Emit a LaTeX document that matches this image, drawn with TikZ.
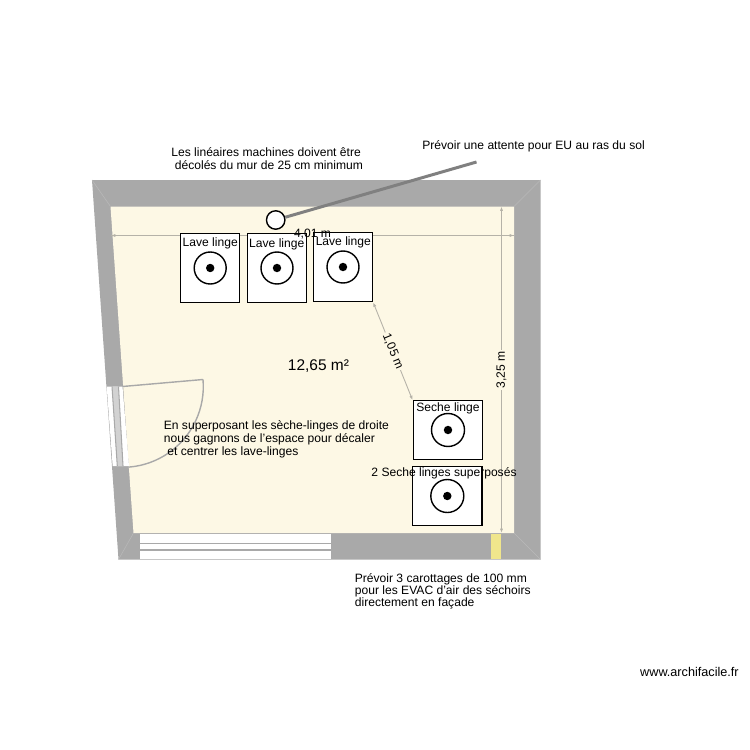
\documentclass[tikz,border=0pt]{standalone}
\usepackage{fontspec}
\setmainfont{Liberation Sans}
\usetikzlibrary{arrows.meta}
\definecolor{wallgray}{HTML}{A9A9A9}
\definecolor{floorcream}{HTML}{FDF8E5}
\definecolor{dimgray}{HTML}{B5B2A8}
\definecolor{ventyellow}{HTML}{F0E68C}
\tikzset{
  txt/.style={inner sep=0pt,align=left,text=black,font=\fontsize{6.88}{7.4}\selectfont},
  machine/.style={draw,thick,fill=white,inner sep=0pt},
  hole/.style={circle,fill=black,inner sep=0pt,minimum size=4.8pt},
  dimline/.style={dimgray,line width=0.5pt,{Latex[length=2.5pt,width=1.8pt]}-{Latex[length=2.5pt,width=1.8pt]}},
  dimtxt/.style={txt,fill=floorcream,inner sep=1pt},
}
\begin{document}
\begin{tikzpicture}[x=0.02cm,y=-0.02cm]
  \useasboundingbox (0,0) rectangle (750,750);
  \fill[white] (0,0) rectangle (750,750);
  % walls and floor
  \fill[wallgray] (92,180) -- (540.5,180) -- (540.5,559.5) -- (118.5,559.5) -- cycle;
  \fill[floorcream] (110.5,206.5) -- (514,206.5) -- (514,533) -- (133.5,533) -- cycle;
  \draw[gray!55,line width=0.3pt] (92,180) -- (110.5,206.5);
  \draw[gray!55,line width=0.3pt] (540.5,180) -- (514,206.5);
  \draw[gray!55,line width=0.3pt] (540.5,559.5) -- (514,533);
  \draw[gray!55,line width=0.3pt] (118.5,559.5) -- (133.5,533);
  % window at the bottom
  \fill[white] (140,533.5) rectangle (331,559);
  \draw[wallgray,line width=0.8pt] (140,543.5) -- (331,543.5);
  \draw[wallgray,line width=0.8pt] (140,550) -- (331,550);
  % vent in the wall
  \fill[ventyellow] (491,533.5) rectangle (501,559);
  % door
  \fill[white] (106.7,386.5) -- (122.5,386.5) -- (129,466) -- (112.7,466) -- cycle;
  \fill[gray!35] (112,386.5) -- (118.5,386.5) -- (123,466) -- (117.3,466) -- cycle;
  \draw[wallgray,line width=0.6pt] (112,386.5) -- (117.3,466);
  \draw[wallgray,line width=0.6pt] (118.5,386.5) -- (123,466);
  \draw[wallgray,line width=0.8pt] (203,379.5) -- (122.5,386.5);
  \draw[wallgray,line width=0.8pt] (203,379.5) arc[start angle=-5,end angle=85.3,radius=80.8];
  % dimensions
  \coordinate (WidthL) at (111,235.5);
  \coordinate (WidthGapL) at (290,235.5);
  \coordinate (WidthGapR) at (333,235.5);
  \coordinate (WidthR) at (514,235.5);
  \coordinate (HeightT) at (501.5,206.5);
  \coordinate (HeightB) at (501.5,533);
  \draw[dimline,-] (WidthL) -- (WidthGapL);
  \draw[dimline,-] (WidthGapR) -- (WidthR);
  \draw[dimgray,line width=0.5pt,{Latex[length=2.5pt,width=1.8pt]}-] (WidthL) -- +(6,0);
  \draw[dimgray,line width=0.5pt,-{Latex[length=2.5pt,width=1.8pt]}] (WidthR) ++(-6,0) -- (WidthR);
  \draw[dimline] (HeightT) -- node[dimtxt,rotate=90] (HeightLbl) {3,25 m} (HeightB);
  % machines
  \node[machine,minimum width=59*0.569pt,minimum height=69.5*0.569pt] (Lave1) at (210.2,268) {};
  \node[machine,minimum width=59*0.569pt,minimum height=69.5*0.569pt] (Lave2) at (277,268) {};
  \node[machine,minimum width=59*0.569pt,minimum height=69.5*0.569pt] (Lave3) at (343,267) {};
  \node[machine,minimum width=69.5*0.569pt,minimum height=58.5*0.569pt] (Seche1) at (448,430) {};
  \node[machine,minimum width=69.5*0.569pt,minimum height=58.5*0.569pt] (Seche2) at (447.3,496) {};
  \draw[thick] (Lave1) circle[radius=16];
  \draw[thick] (Lave2) circle[radius=16];
  \draw[thick] (Lave3) circle[radius=16];
  \draw[thick] (Seche1) circle[radius=16.5];
  \draw[thick] (Seche2) circle[radius=16.5];
  \foreach \m in {Lave1,Lave2,Lave3,Seche1,Seche2}
    \node[hole] (\m Hole) at (\m) {};
  \draw[dimline] (Lave3.south east) -- node[dimtxt,rotate=-67.5,pos=0.5] (GapLbl) {1,05 m} (Seche1.north west);
  \node[txt] (Lave1Lbl) at (210.2,243.5) {Lave linge};
  \node[txt] (Lave2Lbl) at (276.8,244.5) {Lave linge};
  \node[txt] (Lave3Lbl) at (343.3,242) {Lave linge};
  \node[txt] (Seche1Lbl) at (448,408.5) {Seche linge};
  \node[txt] (WidthLbl) at (312.5,234.5) {4,01 m};
  % drain
  \node[draw,thick,circle,fill=white,minimum size=10.5pt,inner sep=0pt] (Drain) at (275.7,220) {};
  \coordinate (DrainEnd) at (476.5,162);
  \draw[gray,line width=1.7pt] (Drain) -- (DrainEnd);
  % notes
  \node[txt,font=\fontsize{8.8}{10}\selectfont] (Area) at (318.5,366.5) {12,65 m²};
  \node[txt,anchor=west] (NoteDecol) at (171,158.5) {Les linéaires machines doivent être\\\hspace*{2pt}décolés du mur de 25 cm minimum};
  \node[txt,anchor=west] (NoteEU) at (422,146) {Prévoir une attente pour EU au ras du sol};
  \node[txt,anchor=west] (NoteDoor) at (163.5,439.5) {En superposant les sèche-linges de droite\\nous gagnons de l'espace pour décaler\\\hspace*{2pt}et centrer les lave-linges};
  \node[txt] (NoteStack) at (444,473) {2 Seche linges superposés};
  \node[txt,anchor=west,font=\fontsize{6.88}{6.95}\selectfont] (NoteVent) at (354.5,591.5) {Prévoir 3 carottages de 100 mm\\pour les EVAC d'air des séchoirs\\directement en façade};
  \node[txt,anchor=east,font=\fontsize{7.2}{8}\selectfont] (Site) at (739,672) {www.archifacile.fr};
\end{tikzpicture}
\end{document}
